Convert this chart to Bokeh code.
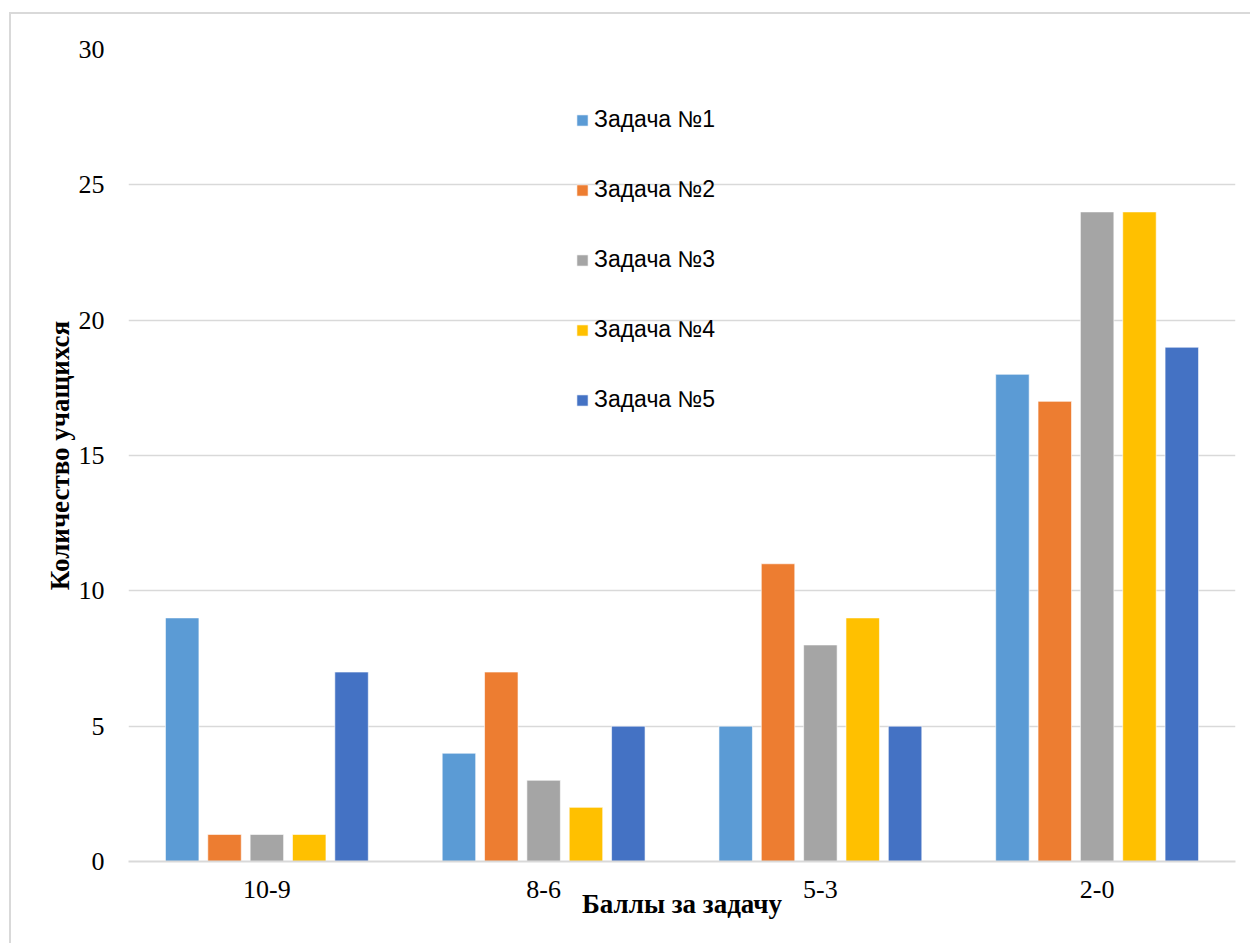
from bokeh.plotting import figure
from bokeh.models import FactorRange, ColumnDataSource, Legend, LegendItem
from bokeh.transform import dodge
from bokeh.embed import file_html
from bokeh.resources import INLINE

categories = ["10-9", "8-6", "5-3", "2-0"]
series_names = ["Задача №1", "Задача №2", "Задача №3", "Задача №4", "Задача №5"]
task1 = [9, 4, 5, 18]
task2 = [1, 7, 11, 17]
task3 = [1, 3, 8, 24]
task4 = [1, 2, 9, 24]
task5 = [7, 5, 5, 19]
colors = ["#5B9BD5", "#ED7D31", "#A5A5A5", "#FFC000", "#4472C4"]
y_ticks = [0, 5, 10, 15, 20, 25, 30]

source = ColumnDataSource(dict(cat=categories, t1=task1, t2=task2, t3=task3, t4=task4, t5=task5))

p = figure(width=1241, height=931, x_range=FactorRange(*categories), y_range=(0, 30),
           output_backend="svg", toolbar_location=None,
           min_border_left=117, min_border_top=35, min_border_right=17, min_border_bottom=84)
p.styles = {"margin-left": "9px", "margin-top": "12px",
            "border-left": "2px solid #D9D9D9", "border-top": "2px solid #D9D9D9"}

pitch = 0.153
offsets = [-2 * pitch, -pitch, 0, pitch, 2 * pitch]
renderers = []
for i, key in enumerate(["t1", "t2", "t3", "t4", "t5"]):
    r = p.vbar(x=dodge("cat", offsets[i], range=p.x_range), top=key, width=0.121,
               source=source, fill_color=colors[i], line_color="white", line_width=1, line_alpha=0.6)
    renderers.append(r)

legend = Legend(items=[LegendItem(label=series_names[i], renderers=[renderers[i]]) for i in range(5)],
                location=(447, 448), orientation="vertical")
legend.border_line_color = None
legend.background_fill_alpha = 0
legend.padding = 0
legend.margin = 0
legend.spacing = 43
legend.label_height = 23
legend.glyph_height = 14
legend.glyph_width = 14
legend.label_standoff = 5
legend.label_text_font = "Liberation Sans"
legend.label_text_font_size = "23px"
legend.label_text_color = "#000000"
p.add_layout(legend, "center")

p.outline_line_color = None
p.xgrid.grid_line_color = None
p.ygrid.grid_line_color = "#D9D9D9"
p.ygrid.grid_line_width = 1.5
p.yaxis.ticker = y_ticks
p.yaxis.axis_line_color = None
p.yaxis.major_tick_line_color = None
p.yaxis.minor_tick_line_color = None
p.yaxis.major_label_standoff = 18
p.yaxis.major_label_text_font = "Liberation Serif"
p.yaxis.major_label_text_font_size = "26px"
p.yaxis.major_label_text_color = "#000000"
p.yaxis.axis_label = "Количество учащихся"
p.yaxis.axis_label_text_font = "Liberation Serif"
p.yaxis.axis_label_text_font_size = "27px"
p.yaxis.axis_label_text_font_style = "bold"
p.yaxis.axis_label_text_color = "#000000"
p.yaxis.axis_label_standoff = 1

p.xaxis.axis_line_color = "#D9D9D9"
p.xaxis.axis_line_width = 2
p.xaxis.major_tick_line_color = None
p.xaxis.minor_tick_line_color = None
p.xaxis.major_label_standoff = 13
p.xaxis.major_label_text_font = "Liberation Serif"
p.xaxis.major_label_text_font_size = "26px"
p.xaxis.major_label_text_color = "#000000"
p.xaxis.axis_label = "Баллы за задачу"
p.xaxis.axis_label_text_font = "Liberation Serif"
p.xaxis.axis_label_text_font_size = "27px"
p.xaxis.axis_label_text_font_style = "bold"
p.xaxis.axis_label_text_color = "#000000"
p.xaxis.axis_label_standoff = -12

open("out.html", "w").write(file_html(p, INLINE))
